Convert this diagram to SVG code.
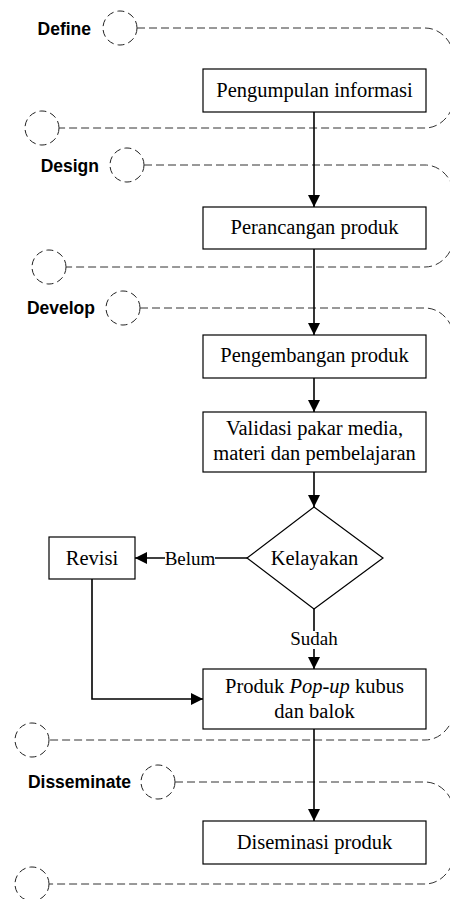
<svg xmlns="http://www.w3.org/2000/svg" width="450" height="899" viewBox="0 0 450 899">
<style>
.band{fill:none;stroke:#333;stroke-width:1;stroke-dasharray:8 4}
.ring{fill:none;stroke:#222;stroke-width:1;stroke-dasharray:7 4}
.phase{font-family:"Liberation Sans",Arial,sans-serif;font-weight:bold;font-size:17.5px;fill:#000;text-anchor:end}
.box{fill:#fff;stroke:#000;stroke-width:1.2}
.t{font-family:"Liberation Serif","Times New Roman",serif;font-size:20.5px;fill:#000;text-anchor:middle}
.lbl{font-family:"Liberation Serif","Times New Roman",serif;font-size:19px;fill:#000;text-anchor:middle}
.conn{fill:none;stroke:#000;stroke-width:1.6}
</style>
<defs>
<marker id="ah" markerUnits="userSpaceOnUse" markerWidth="12" markerHeight="12" viewBox="0 0 12 12" refX="12" refY="6" orient="auto">
<path d="M0,0 L12,6 L0,12 z" fill="#000"/>
</marker>
</defs>

<g id="phases">
<g id="define">
<text class="phase" x="91" y="35">Define</text>
<circle class="ring" cx="120" cy="28" r="17"/>
<path class="band" d="M137,28 H425 A30 35 0 0 1 455 63 V93 A30 35 0 0 1 425 128 H59"/>
<circle class="ring" cx="42" cy="128" r="17"/>
</g>
<g id="design">
<text class="phase" x="99" y="172">Design</text>
<circle class="ring" cx="127" cy="165" r="17"/>
<path class="band" d="M144,165 H425 A30 35 0 0 1 455 200 V232 A30 35 0 0 1 425 267 H66"/>
<circle class="ring" cx="49" cy="267" r="17"/>
</g>
<g id="develop">
<text class="phase" x="95" y="314">Develop</text>
<circle class="ring" cx="123" cy="308" r="17"/>
<path class="band" d="M140,308 H425 A30 35 0 0 1 455 343 V705 A30 35 0 0 1 425 740 H49"/>
<circle class="ring" cx="32" cy="740" r="17"/>
</g>
<g id="disseminate">
<text class="phase" x="131" y="788">Disseminate</text>
<circle class="ring" cx="158" cy="782" r="17"/>
<path class="band" d="M175,782 H425 A30 35 0 0 1 455 817 V849 A30 35 0 0 1 425 884 H49"/>
<circle class="ring" cx="32" cy="884" r="17"/>
</g>
</g>

<g id="connectors">
<path class="conn" d="M314,112 V207" marker-end="url(#ah)"/>
<path class="conn" d="M314,249 V335" marker-end="url(#ah)"/>
<path class="conn" d="M314,378 V412" marker-end="url(#ah)"/>
<path class="conn" d="M314,472 V507" marker-end="url(#ah)"/>
<path class="conn" d="M247,558 H135" marker-end="url(#ah)"/>
<rect x="165" y="546" width="50" height="24" fill="#fff"/>
<text class="lbl" x="190" y="565">Belum</text>
<path class="conn" d="M314,609 V669" marker-end="url(#ah)"/>
<rect x="290" y="631" width="48" height="18" fill="#fff"/>
<text class="lbl" x="314" y="645">Sudah</text>
<path class="conn" d="M92,579 V699 H203" marker-end="url(#ah)"/>
<path class="conn" d="M314,729 V821" marker-end="url(#ah)"/>
</g>

<g id="n1"><rect class="box" x="203" y="69" width="223" height="43"/><text class="t" x="314.5" y="97">Pengumpulan informasi</text></g>
<g id="n2"><rect class="box" x="203" y="207" width="223" height="42"/><text class="t" x="314.5" y="234">Perancangan produk</text></g>
<g id="n3"><rect class="box" x="203" y="335" width="223" height="43"/><text class="t" x="314.5" y="362">Pengembangan produk</text></g>
<g id="n4"><rect class="box" x="203" y="412" width="223" height="60"/><text class="t" x="314.5" y="435">Validasi pakar media,</text><text class="t" x="314.5" y="460">materi dan pembelajaran</text></g>
<g id="n5"><path class="box" d="M314,507 L383,558 L314,609 L247,558 Z"/><text class="t" x="314.5" y="565">Kelayakan</text></g>
<g id="n6"><rect class="box" x="49" y="537" width="86" height="42"/><text class="t" x="92" y="565">Revisi</text></g>
<g id="n7"><rect class="box" x="203" y="669" width="223" height="60"/><text class="t" x="314.5" y="693">Produk <tspan font-style="italic">Pop-up</tspan> kubus</text><text class="t" x="314.5" y="718">dan balok</text></g>
<g id="n8"><rect class="box" x="203" y="821" width="223" height="43"/><text class="t" x="314.5" y="849">Diseminasi produk</text></g>
</svg>
